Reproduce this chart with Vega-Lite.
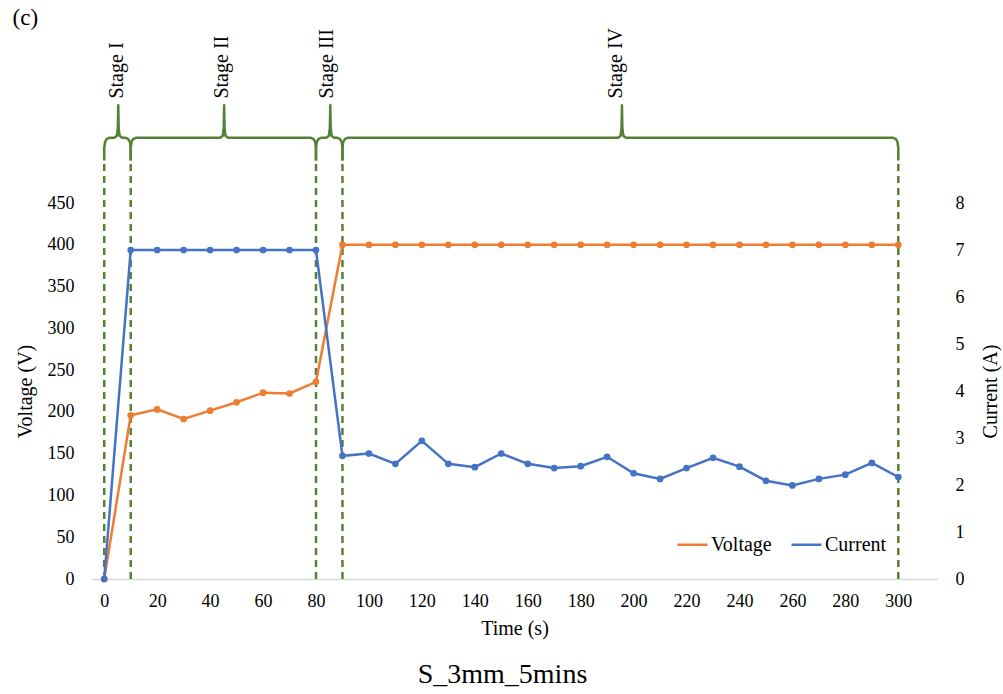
{
  "$schema": "https://vega.github.io/schema/vega-lite/v6.json",
  "width": 847,
  "height": 376,
  "autosize": {"type": "none"},
  "padding": {"left": 91, "top": 203, "right": 65, "bottom": 115},
  "background": "white",
  "config": {
    "font": "Liberation Serif",
    "view": {"stroke": null},
    "axis": {"labelFont": "Liberation Serif", "titleFont": "Liberation Serif", "labelFontSize": 18, "titleFontSize": 20, "titleFontWeight": "normal", "labelColor": "#000", "titleColor": "#000", "grid": false, "ticks": false},
    "legend": {"labelFont": "Liberation Serif", "labelFontSize": 20, "labelColor": "#000"}
  },
  "title": {"text": "S_3mm_5mins", "orient": "bottom", "fontSize": 28, "fontWeight": "normal", "font": "Liberation Serif", "color": "#000", "offset": 23, "dx": -12},
  "datasets": {
    "voltage": [
      {"t": 0, "value": 0, "series": "Voltage"},
      {"t": 10, "value": 196, "series": "Voltage"},
      {"t": 20, "value": 203, "series": "Voltage"},
      {"t": 30, "value": 191.5, "series": "Voltage"},
      {"t": 40, "value": 201.5, "series": "Voltage"},
      {"t": 50, "value": 211.5, "series": "Voltage"},
      {"t": 60, "value": 223, "series": "Voltage"},
      {"t": 70, "value": 222, "series": "Voltage"},
      {"t": 80, "value": 236, "series": "Voltage"},
      {"t": 90, "value": 400, "series": "Voltage"},
      {"t": 100, "value": 400, "series": "Voltage"},
      {"t": 110, "value": 400, "series": "Voltage"},
      {"t": 120, "value": 400, "series": "Voltage"},
      {"t": 130, "value": 400, "series": "Voltage"},
      {"t": 140, "value": 400, "series": "Voltage"},
      {"t": 150, "value": 400, "series": "Voltage"},
      {"t": 160, "value": 400, "series": "Voltage"},
      {"t": 170, "value": 400, "series": "Voltage"},
      {"t": 180, "value": 400, "series": "Voltage"},
      {"t": 190, "value": 400, "series": "Voltage"},
      {"t": 200, "value": 400, "series": "Voltage"},
      {"t": 210, "value": 400, "series": "Voltage"},
      {"t": 220, "value": 400, "series": "Voltage"},
      {"t": 230, "value": 400, "series": "Voltage"},
      {"t": 240, "value": 400, "series": "Voltage"},
      {"t": 250, "value": 400, "series": "Voltage"},
      {"t": 260, "value": 400, "series": "Voltage"},
      {"t": 270, "value": 400, "series": "Voltage"},
      {"t": 280, "value": 400, "series": "Voltage"},
      {"t": 290, "value": 400, "series": "Voltage"},
      {"t": 300, "value": 400, "series": "Voltage"}
    ],
    "current": [
      {"t": 0, "value": 0, "series": "Current"},
      {"t": 10, "value": 7.0, "series": "Current"},
      {"t": 20, "value": 7.0, "series": "Current"},
      {"t": 30, "value": 7.0, "series": "Current"},
      {"t": 40, "value": 7.0, "series": "Current"},
      {"t": 50, "value": 7.0, "series": "Current"},
      {"t": 60, "value": 7.0, "series": "Current"},
      {"t": 70, "value": 7.0, "series": "Current"},
      {"t": 80, "value": 7.0, "series": "Current"},
      {"t": 90, "value": 2.62, "series": "Current"},
      {"t": 100, "value": 2.67, "series": "Current"},
      {"t": 110, "value": 2.45, "series": "Current"},
      {"t": 120, "value": 2.94, "series": "Current"},
      {"t": 130, "value": 2.45, "series": "Current"},
      {"t": 140, "value": 2.38, "series": "Current"},
      {"t": 150, "value": 2.67, "series": "Current"},
      {"t": 160, "value": 2.45, "series": "Current"},
      {"t": 170, "value": 2.36, "series": "Current"},
      {"t": 180, "value": 2.4, "series": "Current"},
      {"t": 190, "value": 2.6, "series": "Current"},
      {"t": 200, "value": 2.25, "series": "Current"},
      {"t": 210, "value": 2.13, "series": "Current"},
      {"t": 220, "value": 2.36, "series": "Current"},
      {"t": 230, "value": 2.58, "series": "Current"},
      {"t": 240, "value": 2.39, "series": "Current"},
      {"t": 250, "value": 2.09, "series": "Current"},
      {"t": 260, "value": 1.99, "series": "Current"},
      {"t": 270, "value": 2.13, "series": "Current"},
      {"t": 280, "value": 2.22, "series": "Current"},
      {"t": 290, "value": 2.47, "series": "Current"},
      {"t": 300, "value": 2.17, "series": "Current"}
    ],
    "bounds": [{"t": 0}, {"t": 10}, {"t": 80}, {"t": 90}, {"t": 300}],
    "stages": [
      {"label": "Stage I", "t": 4.8},
      {"label": "Stage II", "t": 44.5},
      {"label": "Stage III", "t": 84.3},
      {"label": "Stage IV", "t": 193.5}
    ],
    "braces": [
      {"b": 1, "o": 1, "t": 0, "v": 501}, {"b": 1, "o": 2, "t": 0, "v": 516}, {"b": 1, "o": 3, "t": 0.3, "v": 523}, {"b": 1, "o": 4, "t": 0.9, "v": 526.5}, {"b": 1, "o": 5, "t": 1.9, "v": 528},
      {"b": 1, "o": 6, "t": 3.8, "v": 528}, {"b": 1, "o": 7, "t": 4.8, "v": 530.5}, {"b": 1, "o": 8, "t": 5.15, "v": 540}, {"b": 1, "o": 9, "t": 5.3, "v": 567}, {"b": 1, "o": 10, "t": 5.45, "v": 540}, {"b": 1, "o": 11, "t": 5.8, "v": 530.5}, {"b": 1, "o": 12, "t": 6.8, "v": 528},
      {"b": 1, "o": 13, "t": 8.1, "v": 528}, {"b": 1, "o": 14, "t": 9.1, "v": 526.5}, {"b": 1, "o": 15, "t": 9.7, "v": 523}, {"b": 1, "o": 16, "t": 10, "v": 516}, {"b": 1, "o": 17, "t": 10, "v": 501},
      {"b": 2, "o": 1, "t": 10, "v": 501}, {"b": 2, "o": 2, "t": 10, "v": 516}, {"b": 2, "o": 3, "t": 10.3, "v": 523}, {"b": 2, "o": 4, "t": 10.9, "v": 526.5}, {"b": 2, "o": 5, "t": 11.9, "v": 528},
      {"b": 2, "o": 6, "t": 43.8, "v": 528}, {"b": 2, "o": 7, "t": 44.8, "v": 530.5}, {"b": 2, "o": 8, "t": 45.15, "v": 540}, {"b": 2, "o": 9, "t": 45.3, "v": 567}, {"b": 2, "o": 10, "t": 45.45, "v": 540}, {"b": 2, "o": 11, "t": 45.8, "v": 530.5}, {"b": 2, "o": 12, "t": 46.8, "v": 528},
      {"b": 2, "o": 13, "t": 78.1, "v": 528}, {"b": 2, "o": 14, "t": 79.1, "v": 526.5}, {"b": 2, "o": 15, "t": 79.7, "v": 523}, {"b": 2, "o": 16, "t": 80, "v": 516}, {"b": 2, "o": 17, "t": 80, "v": 501},
      {"b": 3, "o": 1, "t": 80, "v": 501}, {"b": 3, "o": 2, "t": 80, "v": 516}, {"b": 3, "o": 3, "t": 80.3, "v": 523}, {"b": 3, "o": 4, "t": 80.9, "v": 526.5}, {"b": 3, "o": 5, "t": 81.9, "v": 528},
      {"b": 3, "o": 6, "t": 83.9, "v": 528}, {"b": 3, "o": 7, "t": 84.9, "v": 530.5}, {"b": 3, "o": 8, "t": 85.25, "v": 540}, {"b": 3, "o": 9, "t": 85.4, "v": 567}, {"b": 3, "o": 10, "t": 85.55, "v": 540}, {"b": 3, "o": 11, "t": 85.9, "v": 530.5}, {"b": 3, "o": 12, "t": 86.9, "v": 528},
      {"b": 3, "o": 13, "t": 88.1, "v": 528}, {"b": 3, "o": 14, "t": 89.1, "v": 526.5}, {"b": 3, "o": 15, "t": 89.7, "v": 523}, {"b": 3, "o": 16, "t": 90, "v": 516}, {"b": 3, "o": 17, "t": 90, "v": 501},
      {"b": 4, "o": 1, "t": 90, "v": 501}, {"b": 4, "o": 2, "t": 90, "v": 516}, {"b": 4, "o": 3, "t": 90.3, "v": 523}, {"b": 4, "o": 4, "t": 90.9, "v": 526.5}, {"b": 4, "o": 5, "t": 91.9, "v": 528},
      {"b": 4, "o": 6, "t": 194.1, "v": 528}, {"b": 4, "o": 7, "t": 195.1, "v": 530.5}, {"b": 4, "o": 8, "t": 195.45, "v": 540}, {"b": 4, "o": 9, "t": 195.6, "v": 567}, {"b": 4, "o": 10, "t": 195.75, "v": 540}, {"b": 4, "o": 11, "t": 196.1, "v": 530.5}, {"b": 4, "o": 12, "t": 197.1, "v": 528},
      {"b": 4, "o": 13, "t": 298.1, "v": 528}, {"b": 4, "o": 14, "t": 299.1, "v": 526.5}, {"b": 4, "o": 15, "t": 299.7, "v": 523}, {"b": 4, "o": 16, "t": 300, "v": 516}, {"b": 4, "o": 17, "t": 300, "v": 501}
    ],
    "panel": [{"label": "(c)", "t": -29.8, "v": 671}]
  },
  "resolve": {"scale": {"y": "independent"}},
  "layer": [
    {
      "data": {"name": "bounds"},
      "mark": {"type": "rule", "color": "#548235", "strokeWidth": 2.5, "strokeDash": [7, 5], "clip": false},
      "encoding": {
        "x": {"field": "t", "type": "quantitative", "scale": {"domain": [-5, 315], "nice": false, "zero": false},
              "axis": {"values": [0, 20, 40, 60, 80, 100, 120, 140, 160, 180, 200, 220, 240, 260, 280, 300], "title": "Time (s)", "domainColor": "#d9d9d9", "domainWidth": 1.5, "labelPadding": 13, "titlePadding": 8}},
        "y": {"datum": 0, "type": "quantitative", "scale": {"domain": [0, 450], "nice": false}, "axis": null},
        "y2": {"datum": 498}
      }
    },
    {
      "data": {"name": "braces"},
      "mark": {"type": "line", "color": "#548235", "strokeWidth": 2.5, "clip": false, "strokeJoin": "round"},
      "encoding": {
        "x": {"field": "t", "type": "quantitative", "title": "Time (s)"},
        "y": {"field": "v", "type": "quantitative", "scale": {"domain": [0, 450], "nice": false}, "axis": null},
        "detail": {"field": "b"},
        "order": {"field": "o"}
      }
    },
    {
      "data": {"name": "stages"},
      "mark": {"type": "text", "angle": 270, "align": "left", "baseline": "middle", "fontSize": 20, "font": "Liberation Serif", "color": "#000", "clip": false},
      "encoding": {
        "x": {"field": "t", "type": "quantitative", "title": "Time (s)"},
        "y": {"datum": 575, "type": "quantitative", "scale": {"domain": [0, 450], "nice": false}, "axis": null},
        "text": {"field": "label"}
      }
    },
    {
      "data": {"name": "panel"},
      "mark": {"type": "text", "align": "center", "baseline": "middle", "fontSize": 23, "font": "Liberation Serif", "color": "#000", "clip": false},
      "encoding": {
        "x": {"field": "t", "type": "quantitative", "title": "Time (s)"},
        "y": {"field": "v", "type": "quantitative", "scale": {"domain": [0, 450], "nice": false}, "axis": null},
        "text": {"field": "label"}
      }
    },
    {
      "data": {"name": "voltage"},
      "mark": {"type": "line", "strokeWidth": 2.5, "point": {"filled": true, "size": 45}},
      "encoding": {
        "x": {"field": "t", "type": "quantitative", "title": "Time (s)"},
        "y": {"field": "value", "type": "quantitative", "scale": {"domain": [0, 450], "nice": false},
              "axis": {"orient": "left", "values": [0, 50, 100, 150, 200, 250, 300, 350, 400, 450], "title": "Voltage (V)", "domain": false, "labelPadding": 17, "titlePadding": 12}},
        "color": {"field": "series", "type": "nominal", "scale": {"domain": ["Voltage", "Current"], "range": ["#ED7D31", "#4472C4"]},
                  "legend": {"title": null, "orient": "none", "legendX": 585, "legendY": 325, "direction": "horizontal", "symbolType": "stroke", "symbolStrokeWidth": 2.5, "symbolSize": 900, "labelOffset": 2, "columnPadding": 14}}
      }
    },
    {
      "data": {"name": "current"},
      "mark": {"type": "line", "strokeWidth": 2.5, "point": {"filled": true, "size": 45}},
      "encoding": {
        "x": {"field": "t", "type": "quantitative", "title": "Time (s)"},
        "y": {"field": "value", "type": "quantitative", "scale": {"domain": [0, 8], "nice": false},
              "axis": {"orient": "right", "values": [0, 1, 2, 3, 4, 5, 6, 7, 8], "title": "Current (A)", "domain": false, "labelPadding": 17, "titlePadding": 16, "titleAngle": 270, "titleBaseline": "top"}},
        "color": {"field": "series", "type": "nominal"}
      }
    }
  ]
}
